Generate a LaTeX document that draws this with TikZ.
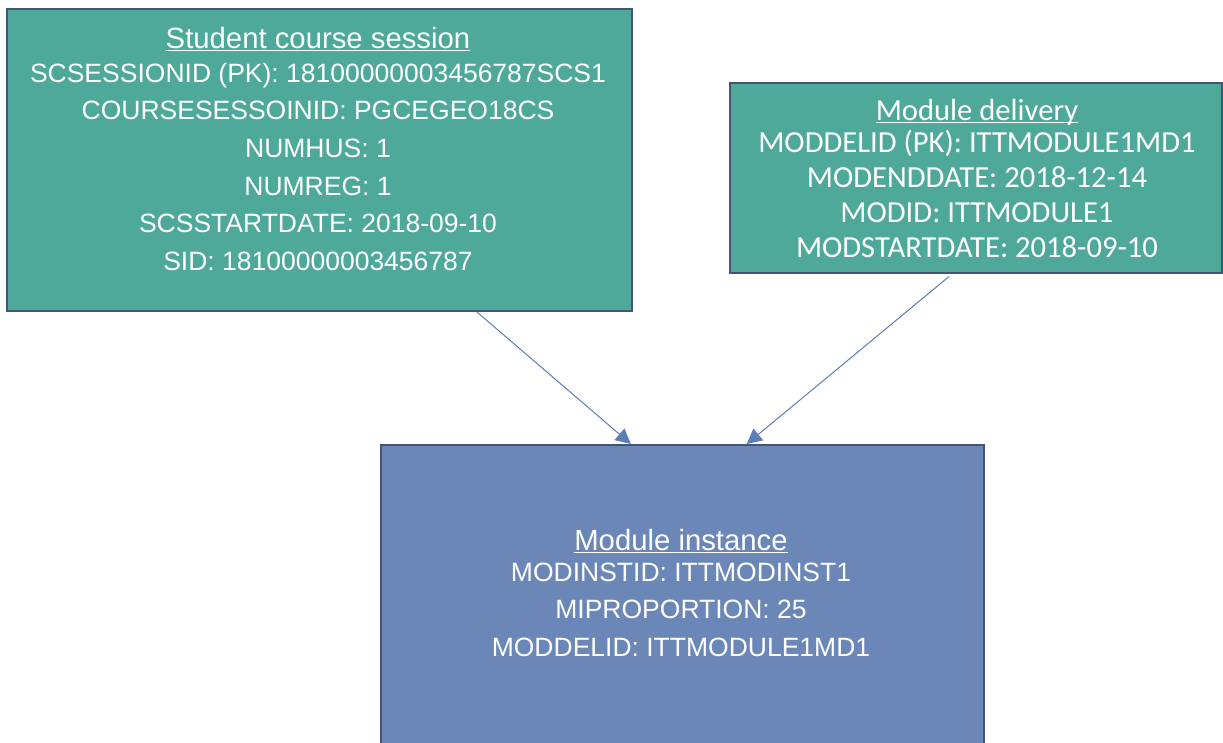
\documentclass[tikz,border=0pt]{standalone}
\usepackage{fontspec}
\setmainfont{Liberation Sans}
\newfontfamily\calibrifont{Carlito}
\usetikzlibrary{arrows.meta}
\definecolor{entteal}{RGB}{78,169,154}
\definecolor{entblue}{RGB}{106,135,184}
\definecolor{entedge}{RGB}{67,84,118}
\definecolor{linkcol}{RGB}{92,124,184}
\newsavebox{\ulinbox}
\newcommand{\ulin}[1]{\sbox{\ulinbox}{#1}\rlap{\usebox{\ulinbox}}\rule[-3.4pt]{\wd\ulinbox}{1.8pt}}

\begin{document}
\begin{tikzpicture}[x=1pt, y=-1pt,
  entity/.style={draw=entedge, line width=2pt, rectangle, inner sep=0pt, anchor=north west},
  attr/.style={text=white, inner sep=0pt, anchor=base, font=\fontsize{26.5}{30}\selectfont},
  ttl/.style={attr, font=\fontsize{29.3}{33}\selectfont},
  cattr/.style={attr, font=\calibrifont\fontsize{30.6}{34}\selectfont},
  link/.style={draw=linkcol, line width=1pt, -{Triangle[length=15pt,width=15pt]}}]
\useasboundingbox (0,0) rectangle (1223,742);

% Tabelle
\node[entity, fill=entteal, minimum width=625pt, minimum height=302pt] (scs) at (6,8) {};
\node[entity, fill=entteal, minimum width=492pt, minimum height=190pt] (md) at (729,82) {};
\node[entity, fill=entblue, minimum width=603pt, minimum height=316pt] (mi) at (380,444) {};

% Student course session
\node[ttl] (scs-t) at (318,48) {\ulin{Student course session}};
\foreach \t [count=\i] in {SCSESSIONID (PK): 18100000003456787SCS1, COURSESESSOINID: PGCEGEO18CS,
  NUMHUS: 1, NUMREG: 1, SCSSTARTDATE: 2018-09-10, SID: 18100000003456787}
  \node[attr] (scs-\i) at (318,44.6+37.6*\i) {\t};

% Module delivery
\node[cattr] (md-t) at (977,120) {\ulin{Module delivery}};
\foreach \t [count=\i] in {MODDELID (PK): ITTMODULE1MD1, MODENDDATE: 2018-12-14,
  MODID: ITTMODULE1, MODSTARTDATE: 2018-09-10}
  \node[cattr] (md-\i) at (977,117+35*\i) {\t};

% Module instance
\node[ttl] (mi-t) at (681,550) {\ulin{Module instance}};
\foreach \t [count=\i] in {MODINSTID: ITTMODINST1, MIPROPORTION: 25, MODDELID: ITTMODULE1MD1}
  \node[attr] (mi-\i) at (681,543.5+37.5*\i) {\t};

% Relazioni
\draw[link] (scs.-44) -- (mi.108.3);
\draw[link, shorten <=4pt] (md.-104.7) -- (mi.68.9);
\end{tikzpicture}
\end{document}
